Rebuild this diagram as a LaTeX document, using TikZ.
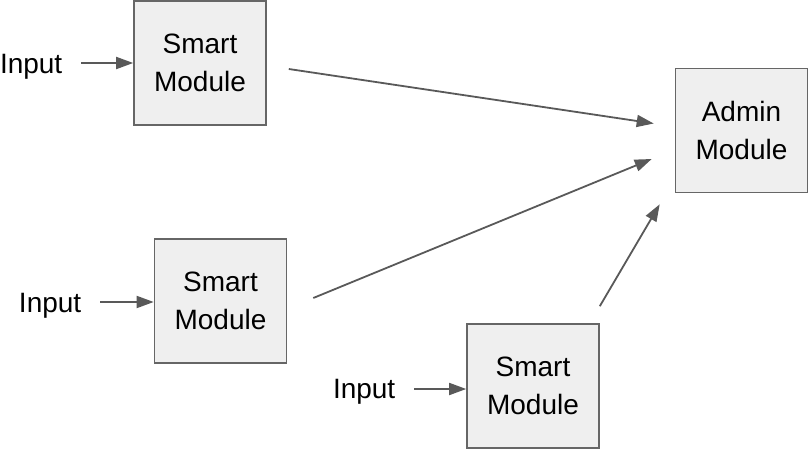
\documentclass[tikz,border=0pt]{standalone}
\usepackage{fontspec}
\setmainfont{Liberation Sans}
\usepackage{tikz}
\usetikzlibrary{arrows.meta}

\begin{document}
\begin{tikzpicture}[x=1pt,y=-1pt,line cap=rect,
		module/.style={draw=custcol_66_66_66, fill=custcol_ef_ef_ef, line width=1.6pt, inner sep=0, minimum width=132pt, minimum height=124pt, align=center, font=\fontsize{28pt}{38pt}\selectfont},
		inlabel/.style={inner sep=0, outer sep=0, anchor=base west, font=\fontsize{28pt}{38pt}\selectfont},
		flow/.style={line width=1.8pt, custcol_59_59_59, line cap=butt, -{Triangle[length=17pt,width=12pt]}}]
				\definecolor{custcol_66_66_66}{RGB}{102, 102, 102}
				\definecolor{custcol_ef_ef_ef}{RGB}{239, 239, 239}
				\definecolor{custcol_59_59_59}{RGB}{89, 89, 89}
				\useasboundingbox (0.0,0.0) rectangle (809.0,450.0);
				\node[module] (smart1) at (200.0,63.0) {Smart\\Module};
				\node[module] (smart2) at (220.5,301.0) {Smart\\Module};
				\node[module] (smart3) at (533.0,386.0) {Smart\\Module};
				\node[module] (admin) at (741.5,130.5) {Admin\\Module};
				\node[inlabel] (input1) at (0.0,73.0) {Input};
				\node[inlabel] (input2) at (19.0,312.0) {Input};
				\node[inlabel] (input3) at (333.0,398.0) {Input};
				\coordinate (tail1) at ([shift={(19,-10)}]input1.base east);
				\coordinate (tail2) at ([shift={(19,-10)}]input2.base east);
				\coordinate (tail3) at ([shift={(19,-9)}]input3.base east);
				\draw [flow]  (tail1) -- (tail1 -| smart1.west) ;
				\draw [flow]  (tail2) -- (tail2 -| smart2.west) ;
				\draw [flow]  (tail3) -- (tail3 -| smart3.west) ;
				\draw [flow]  ([shift={(22,6)}]smart1.east) -- ([shift={(-21,-7)}]admin.west) ;
				\draw [flow]  ([shift={(26,-3)}]smart2.east) -- ([shift={(-23,28.5)}]admin.west) ;
				\draw [flow]  ([shift={(0,-17)}]smart3.north east) -- ([shift={(-15,11)}]admin.south west) ;
			\end{tikzpicture}
\end{document}
